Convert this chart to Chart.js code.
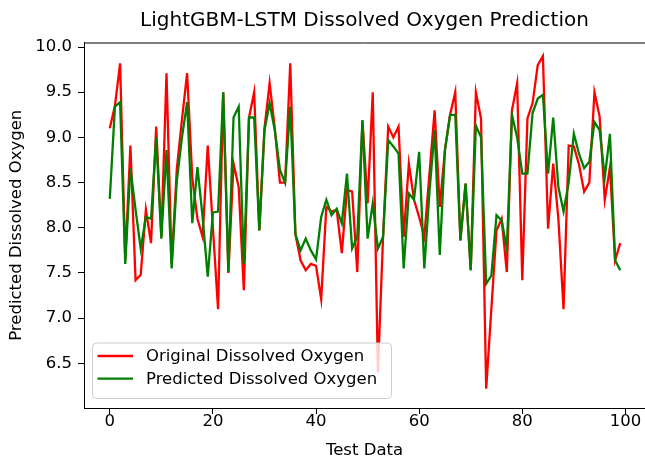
<!DOCTYPE html>
<html>
<head>
<meta charset="utf-8">
<title>LightGBM-LSTM Dissolved Oxygen Prediction</title>
<script src="https://cdn.jsdelivr.net/npm/chart.js@4.4.0/dist/chart.umd.min.js"></script>
<style>
  html, body { margin: 0; padding: 0; background: #fff; }
  #chart { display: block; }
</style>
</head>
<body>
<canvas id="chart" width="645" height="458"></canvas>
<script>
// measured vs. model output for the 100 test samples
const original = [
  9.10, 9.35, 9.82, 7.65, 8.91, 7.42, 7.48, 8.20, 7.83, 9.12,
  7.90, 9.71, 7.60, 8.65, 9.20, 9.71, 8.55, 8.10, 7.90, 8.91,
  8.00, 7.10, 9.50, 7.50, 8.71, 8.45, 7.31, 9.22, 9.50, 7.97,
  9.10, 9.60, 9.10, 8.50, 8.50, 9.82, 7.93, 7.64, 7.53, 7.60,
  7.58, 7.21, 8.23, 8.18, 8.20, 7.72, 8.42, 8.40, 7.51, 9.19,
  8.27, 9.50, 6.40, 7.90, 9.12, 9.00, 9.12, 7.90, 8.71, 8.31,
  8.12, 7.90, 8.60, 9.30, 8.23, 8.86, 9.25, 9.50, 7.86, 8.49,
  7.53, 9.50, 9.21, 6.22, 7.10, 7.97, 8.10, 7.51, 9.30, 9.60,
  7.42, 9.21, 9.38, 9.80, 9.90, 7.99, 8.71, 8.10, 7.10, 8.91,
  8.90, 8.70, 8.40, 8.50, 9.50, 9.23, 8.31, 8.67, 7.64, 7.83
];
const predicted = [
  8.32, 9.34, 9.39, 7.60, 8.66, 8.20, 7.77, 8.12, 8.10, 9.00,
  7.88, 8.86, 7.55, 8.52, 9.00, 9.39, 8.05, 8.67, 8.12, 7.46,
  8.17, 8.18, 9.50, 7.51, 9.22, 9.34, 7.60, 9.22, 9.22, 7.97,
  9.08, 9.38, 9.08, 8.64, 8.50, 9.34, 7.93, 7.75, 7.88, 7.75,
  7.65, 8.12, 8.31, 8.14, 8.21, 8.05, 8.60, 7.77, 7.90, 9.19,
  7.88, 8.27, 7.77, 7.90, 8.97, 8.90, 8.82, 7.55, 8.38, 8.31,
  8.84, 7.55, 8.40, 9.08, 7.70, 8.86, 9.25, 9.25, 7.86, 8.49,
  7.53, 9.13, 9.00, 7.38, 7.47, 8.14, 8.08, 7.77, 9.25, 9.00,
  8.60, 8.60, 9.27, 9.43, 9.47, 8.60, 9.22, 8.45, 8.18, 8.50,
  9.04, 8.82, 8.66, 8.73, 9.17, 9.08, 8.56, 9.04, 7.64, 7.53
];
const xTicks = [0, 20, 40, 60, 80, 100];
const yTicks = [6.5, 7.0, 7.5, 8.0, 8.5, 9.0, 9.5, 10.0];

const FONT = 'DejaVu Sans';
const TEXT_SIZE = 16.5;

Chart.defaults.font.family = FONT;
Chart.defaults.color = '#000';

const toPoints = arr => arr.map((v, i) => ({ x: i, y: v }));

// matplotlib-style legend box in the lower left of the plot
const innerLegend = {
  id: 'innerLegend',
  afterDatasetsDraw(chart) {
    const { ctx, chartArea } = chart;
    const left = chartArea.left + 8;
    const top = chartArea.bottom - 65.5;
    const w = 299, h = 55.5;
    ctx.save();
    ctx.beginPath();
    ctx.roundRect(left + 0.5, top + 0.5, w, h, 4);
    ctx.fillStyle = 'rgba(255,255,255,0.8)';
    ctx.fill();
    ctx.strokeStyle = '#cccccc';
    ctx.lineWidth = 1;
    ctx.stroke();

    const items = chart.data.datasets.map(ds => ({ label: ds.label, color: ds.borderColor }));
    items.forEach((item, k) => {
      const y = top + 13.5 + k * 22.6;
      ctx.beginPath();
      ctx.moveTo(left + 5.5, y);
      ctx.lineTo(left + 41, y);
      ctx.strokeStyle = item.color;
      ctx.lineWidth = 2.3;
      ctx.stroke();
      ctx.fillStyle = '#000';
      ctx.font = TEXT_SIZE + 'px "' + FONT + '"';
      ctx.textBaseline = 'middle';
      ctx.fillText(item.label, left + 54, y + 1);
    });
    ctx.restore();
  }
};

// top spine (left and bottom come from the axis borders)
const frame = {
  id: 'frame',
  afterDraw(chart) {
    const { ctx, chartArea } = chart;
    ctx.save();
    ctx.strokeStyle = '#000';
    ctx.lineWidth = 1;
    ctx.beginPath();
    ctx.moveTo(chartArea.left, chartArea.top + 0.5);
    ctx.lineTo(chartArea.right, chartArea.top + 0.5);
    ctx.stroke();
    ctx.restore();
  }
};

new Chart(document.getElementById('chart'), {
  type: 'line',
  data: {
    datasets: [
      {
        label: 'Original Dissolved Oxygen',
        data: toPoints(original),
        borderColor: '#ff0000',
        borderWidth: 2.3,
        order: 1
      },
      {
        label: 'Predicted Dissolved Oxygen',
        data: toPoints(predicted),
        borderColor: '#008000',
        borderWidth: 2.3,
        order: 0
      }
    ]
  },
  options: {
    responsive: false,
    animation: false,
    devicePixelRatio: 1,
    layout: { padding: { left: 0, right: 0, top: 0, bottom: 0 } },
    elements: {
      point: { radius: 0 },
      line: { tension: 0, fill: false }
    },
    scales: {
      x: {
        type: 'linear',
        min: -5,
        max: 103.8,
        afterBuildTicks: s => { s.ticks = xTicks.map(v => ({ value: v })); },
        afterFit: s => { s.height = 50; },
        ticks: {
          font: { size: TEXT_SIZE },
          color: '#000',
          maxRotation: 0,
          padding: -2,
          callback: v => String(v)
        },
        grid: { display: true, drawOnChartArea: false, drawTicks: true, tickLength: 6, color: '#000' },
        border: { display: true, color: '#000', width: 1 },
        title: { display: true, text: 'Test Data', font: { size: TEXT_SIZE }, color: '#000', padding: { top: -3, bottom: -3 } }
      },
      y: {
        type: 'linear',
        min: 6.006,
        max: 10.05,
        afterBuildTicks: s => { s.ticks = yTicks.map(v => ({ value: v })); },
        afterFit: s => { s.width = 84; },
        ticks: {
          font: { size: TEXT_SIZE },
          color: '#000',
          padding: 6,
          callback: v => Number(v).toFixed(1)
        },
        grid: { display: true, drawOnChartArea: false, drawTicks: true, tickLength: 6, color: '#000' },
        border: { display: true, color: '#000', width: 1 },
        title: { display: true, text: 'Predicted Dissolved Oxygen', font: { size: TEXT_SIZE }, color: '#000', padding: { top: 7, bottom: 0 } }
      }
    },
    plugins: {
      legend: { display: false },
      tooltip: { enabled: false },
      title: {
        display: true,
        text: 'LightGBM-LSTM Dissolved Oxygen Prediction',
        fullSize: false,
        font: { size: 20, weight: 'normal' },
        color: '#000',
        padding: { top: 8.5, bottom: 10 }
      }
    }
  },
  plugins: [innerLegend, frame]
});
</script>
</body>
</html>
